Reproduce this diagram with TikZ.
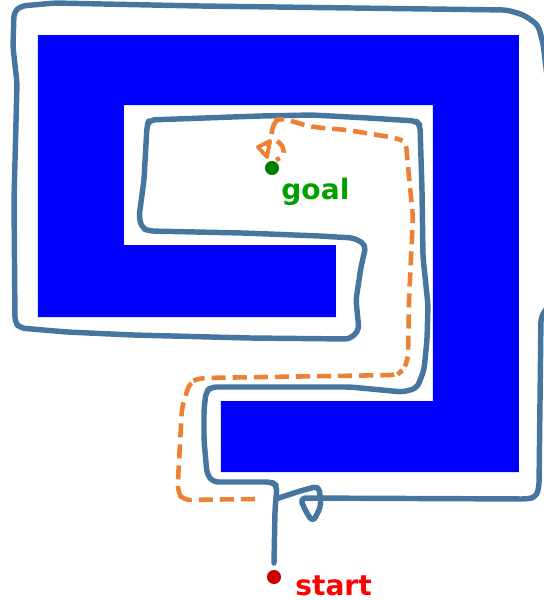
\documentclass[tikz,border=0pt]{standalone}
\usepackage{fontspec}
\newfontfamily\handfont{DejaVu Sans}
\usepackage{xcolor}
\definecolor{mzblue}{RGB}{0,0,255}
\definecolor{mzline}{RGB}{70,118,160}
\definecolor{mzorange}{RGB}{237,128,52}
\definecolor{mzgreen}{RGB}{0,128,0}
\definecolor{mzgoal}{RGB}{0,160,0}
\definecolor{mzdot}{RGB}{204,0,0}
\definecolor{mzred}{RGB}{255,0,0}
\usetikzlibrary{arrows.meta,positioning}

\begin{document}
\begin{tikzpicture}[x=0.02cm, y=-0.02cm,
    walk/.style={mzline, line width=3.1pt, line cap=round, line join=round, rounded corners=3pt},
    route/.style={mzorange, line width=2.6pt, dash pattern=on 8pt off 4pt, rounded corners=4pt},
    spot/.style={circle, inner sep=0pt, minimum size=8pt},
    tag/.style={font=\handfont\bfseries\fontsize{16}{18}\selectfont, inner sep=0pt, anchor=base west}]
    % Frame of the picture
    \useasboundingbox (0,0) rectangle (544,600);
    \clip (0,0) rectangle (544,600);

    % Maze walls: one spiral block
    \fill[mzblue] (38,35) -- (519,35) -- (519,472) -- (221,472) -- (221,401)
      -- (433,401) -- (433,105) -- (124,105) -- (124,245) -- (336,245)
      -- (336,317) -- (38,317) -- cycle;

    % Wall-following walk (hand drawn)
    \draw[walk] (274,563) -- (275,510) -- (277,486) -- (272,482) -- (213,482)
      -- (207,474) -- (204,440) -- (204,410) -- (206,392) -- (211,387)
      -- (350,387) -- (403,392) -- (417,388) -- (424,370) -- (427,340)
      -- (428,305) -- (423,257) -- (422,190) -- (420,125) -- (416,121)
      -- (368,118) -- (312,115) -- (260,116) -- (149,120) -- (147,126)
      -- (144,180) -- (139,217) -- (142,228) -- (149,231) -- (243,233)
      -- (320,236) -- (354,238) -- (366,245) -- (361,267) -- (356,300)
      -- (359,330) -- (350,339) -- (250,338) -- (133,335) -- (67,332)
      -- (20,328) -- (15,322) -- (14,200) -- (17,83) -- (13,47) -- (14,12)
      -- (21,6) -- (55,3) -- (200,6) -- (507,10) -- (524,15) -- (538,25)
      -- (543,43) -- (550,100) -- (552,300) -- (541,317) -- (539,487)
      -- (536,497) -- (527,499) -- (300,498) -- (306,512) -- (313,522)
      -- (321,506) -- (319,486) -- (300,491) -- (276,499);

    % Shortest route to the goal
    \draw[route] (255,499) -- (183,500) -- (178,493) -- (178,480) -- (182,407)
      -- (190,382) -- (200,378) -- (397,375) -- (403,370) -- (408,360)
      -- (409,300) -- (413,217) -- (408,167) -- (406,142) -- (396,138)
      -- (347,130) -- (312,127) -- (281,118) -- (274,121) -- (271,137)
      -- (268,147);
    \draw[mzorange, line width=2.2pt, line join=round] (258,147) -- (270,141) -- (267,157) -- cycle;
    \draw[route, rounded corners=2pt] (277,141) -- (283,146) -- (284,156) -- (276,160);

    % Start and goal
    \node[spot, fill=mzgreen] (goal) at (272,168) {};
    \node[tag, text=mzgoal] (goaltext) at (281,199) {goal};
    \node[spot, fill=mzdot] (start) at (274,577) {};
    \node[tag, text=mzred] (starttext) at (295,595) {start};
\end{tikzpicture}
\end{document}
